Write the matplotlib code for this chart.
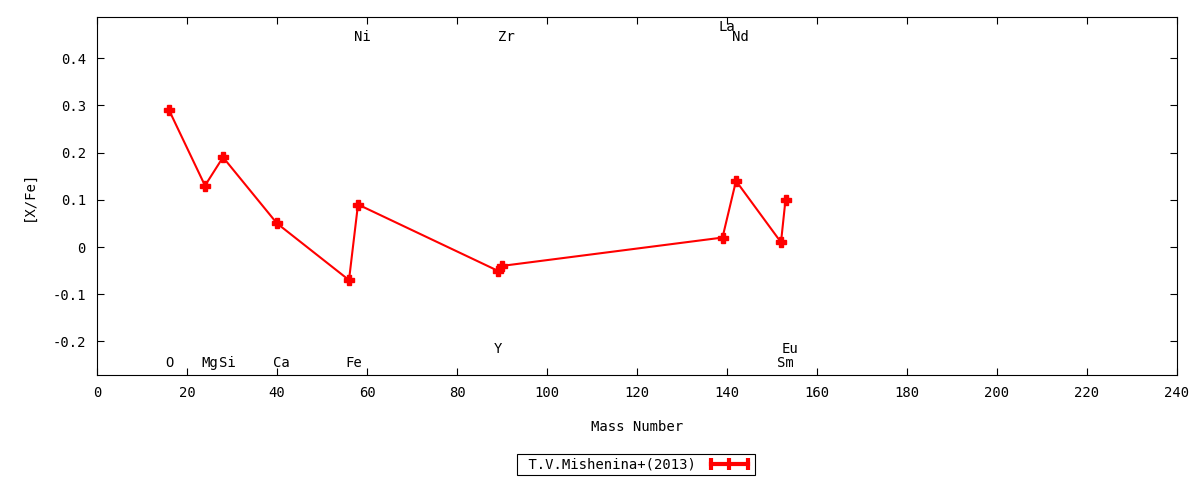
import matplotlib
matplotlib.use('Agg')
import matplotlib.pyplot as plt
from matplotlib.lines import Line2D

# element abundances [X/Fe] vs mass number
elements = ['O', 'Mg', 'Si', 'Ca', 'Fe', 'Ni', 'Y', 'Zr', 'La', 'Nd', 'Sm', 'Eu']
mass = [16, 24, 28, 40, 56, 58, 89, 90, 139, 142, 152, 153]
x_fe = [0.29, 0.13, 0.19, 0.05, -0.07, 0.09, -0.05, -0.04, 0.02, 0.14, 0.01, 0.10]
# height where each element name is written
label_y = [-0.245, -0.245, -0.245, -0.245, -0.245, 0.445, -0.216, 0.445,
           0.466, 0.445, -0.245, -0.216]
series_name = 'T.V.Mishenina+(2013)'

font = {'family': 'DejaVu Sans Mono', 'size': 10}
matplotlib.rc('font', **font)

fig = plt.figure(figsize=(12, 4.8), dpi=100, facecolor='w')
ax = fig.add_axes([97/1200, 1 - 375/480, 1080/1200, 358/480])

ax.plot(mass, x_fe, '-', color='red', lw=1.5, marker='P', ms=7.5,
        mec='red', mfc='red')

for name, m, yl in zip(elements, mass, label_y):
    ax.text(m - 0.8, yl, name, ha='left', va='center')

ax.set_xlim(0, 240)
ax.set_ylim(-0.271, 0.487)
ax.set_xticks(range(0, 241, 20))
ax.set_yticks([-0.2, -0.1, 0, 0.1, 0.2, 0.3, 0.4])
ax.set_yticklabels(['-0.2', '-0.1', '0', '0.1', '0.2', '0.3', '0.4'])
ax.tick_params(direction='in', top=True, right=True, length=5, width=0.8,
               pad=8)
for s in ax.spines.values():
    s.set_linewidth(0.8)

ax.set_xlabel('Mass Number', labelpad=14)
ax.set_ylabel('[X/Fe]', labelpad=12)

handle = Line2D([], [], color='red', lw=3, marker='|', ms=9, mew=3)
leg = fig.legend([handle], [' ' + series_name], loc='center',
                 bbox_to_anchor=(636/1200, 1 - 464.5/480),
                 markerfirst=False, numpoints=3, fancybox=False,
                 framealpha=1, edgecolor='black', handlelength=3.2,
                 borderpad=0.25, handletextpad=0.8)
leg.get_frame().set_linewidth(0.8)

fig.savefig('out.png', dpi=100)
